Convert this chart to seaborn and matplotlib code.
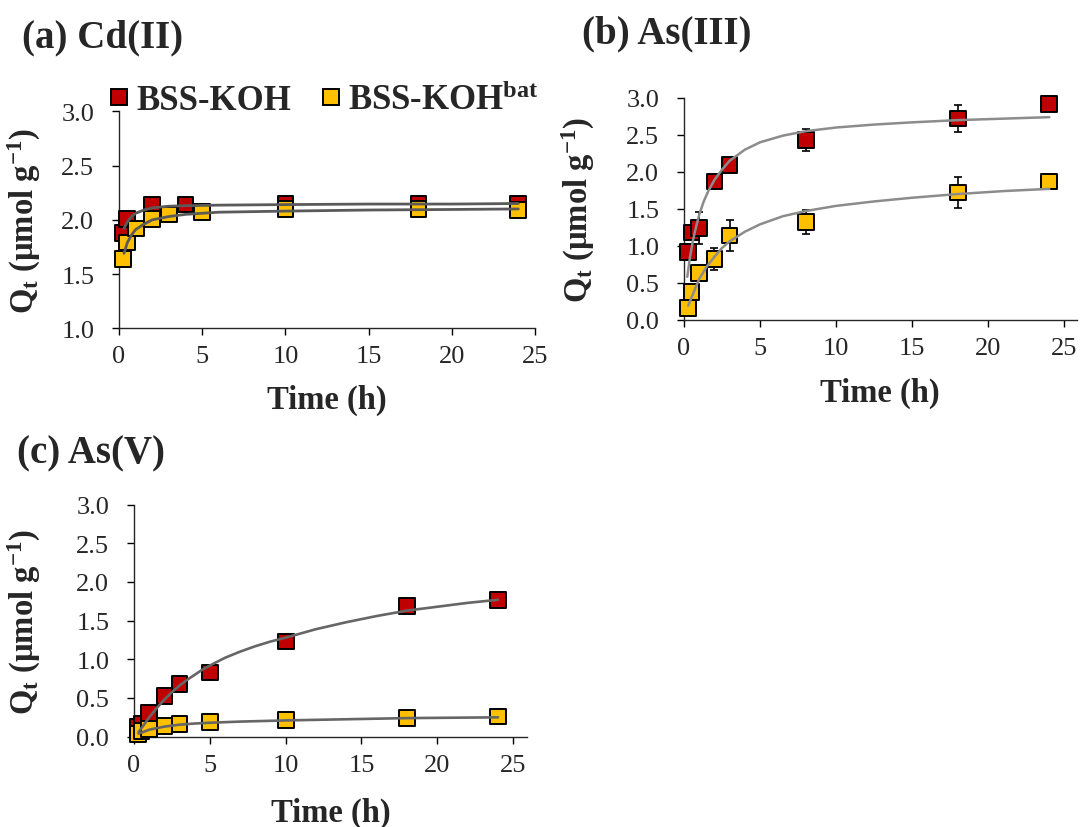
import numpy as np
import pandas as pd
import matplotlib
matplotlib.use('Agg')
import matplotlib.pyplot as plt
from matplotlib.lines import Line2D
import seaborn as sns

sns.set_style("ticks")
plt.rcParams['font.family'] = ['Liberation Serif', 'DejaVu Serif']
plt.rcParams['mathtext.fontset'] = 'custom'
plt.rcParams['mathtext.rm'] = 'Liberation Serif'
plt.rcParams['mathtext.it'] = 'Liberation Serif:italic'
plt.rcParams['mathtext.bf'] = 'Liberation Serif:bold'

samples = ['BSS-KOH', 'BSS-KOHbat']
colors = {'BSS-KOH': '#C00000', 'BSS-KOHbat': '#FFC000'}

# (a) Cd(II)
a_t_red = [0.25, 0.5, 2, 4, 10, 18, 24]
a_q_red = [1.88, 2.01, 2.14, 2.14, 2.15, 2.15, 2.15]
a_t_yel = [0.25, 0.5, 1, 2, 3, 5, 10, 18, 24]
a_q_yel = [1.64, 1.79, 1.92, 2.01, 2.05, 2.07, 2.10, 2.10, 2.09]
a_fit_t_red = [0.3, 0.5, 0.75, 1, 1.5, 2, 3, 4, 6, 10, 15, 20, 24]
a_fit_q_red = [1.92, 1.98, 2.03, 2.06, 2.09, 2.11, 2.125, 2.13, 2.135, 2.14, 2.145, 2.145, 2.15]
a_fit_t_yel = [0.3, 0.5, 0.75, 1, 1.5, 2, 3, 4, 6, 10, 15, 20, 24]
a_fit_q_yel = [1.69, 1.79, 1.86, 1.91, 1.96, 2.0, 2.03, 2.05, 2.07, 2.08, 2.09, 2.095, 2.1]

# (b) As(III)
b_t = [0.25, 0.5, 1, 2, 3, 8, 18, 24]
b_q_red = [0.92, 1.18, 1.24, 1.87, 2.09, 2.43, 2.72, 2.92]
b_e_red = [0.05, 0.05, 0.22, 0.05, 0.05, 0.15, 0.18, 0.04]
b_q_yel = [0.16, 0.37, 0.63, 0.82, 1.14, 1.32, 1.72, 1.87]
b_e_yel = [0.04, 0.05, 0.05, 0.15, 0.21, 0.16, 0.21, 0.05]
b_fit_t_red = [0.22, 0.4, 0.6, 0.8, 1.0, 1.3, 1.6, 2.0, 2.5, 3.0, 4.0, 5.0, 6.5, 8.0, 10, 12.5, 15, 18, 21, 24]
b_fit_q_red = [0.58, 0.85, 1.08, 1.26, 1.42, 1.60, 1.74, 1.89, 2.03, 2.15, 2.30, 2.40, 2.49, 2.55, 2.60, 2.64, 2.67, 2.70, 2.72, 2.74]
b_fit_t_yel = [0.28, 0.5, 0.75, 1.0, 1.5, 2.0, 2.5, 3.0, 4.0, 5.0, 6.5, 8.0, 10, 12.5, 15, 18, 21, 24]
b_fit_q_yel = [0.19, 0.30, 0.43, 0.55, 0.72, 0.85, 0.97, 1.06, 1.19, 1.29, 1.40, 1.47, 1.54, 1.60, 1.65, 1.70, 1.74, 1.77]

# (c) As(V)
c_t = [0.25, 0.5, 1, 2, 3, 5, 10, 18, 24]
c_q_red = [0.13, 0.17, 0.31, 0.53, 0.68, 0.83, 1.23, 1.69, 1.77]
c_q_yel = [0.03, 0.07, 0.10, 0.14, 0.16, 0.19, 0.22, 0.24, 0.26]
c_fit_t_red = [0.3, 0.6, 1, 1.5, 2, 2.5, 3, 3.5, 4, 4.5, 5, 6, 7, 8, 9, 10, 12, 14, 16, 18, 20, 22, 24]
c_fit_q_red = [0.06, 0.14, 0.25, 0.37, 0.48, 0.575, 0.66, 0.735, 0.80, 0.865, 0.92, 1.02, 1.10, 1.17, 1.23, 1.28, 1.39, 1.48, 1.56, 1.63, 1.68, 1.73, 1.77]
c_fit_t_yel = [0.3, 0.6, 1, 1.5, 2, 3, 4, 5, 7, 10, 14, 18, 24]
c_fit_q_yel = [0.04, 0.06, 0.09, 0.11, 0.13, 0.155, 0.17, 0.18, 0.195, 0.21, 0.225, 0.24, 0.25]


def make_df(t_red, q_red, t_yel, q_yel):
    return pd.DataFrame({
        'time': list(t_red) + list(t_yel),
        'q': list(q_red) + list(q_yel),
        'sample': ['BSS-KOH'] * len(t_red) + ['BSS-KOHbat'] * len(t_yel),
    })


def draw(ax, pts, fit, line_color, lw, errs=None):
    if errs is not None:
        for s, e in zip(samples, errs):
            d = pts[pts['sample'] == s]
            ax.errorbar(d['time'], d['q'], yerr=e, fmt='none', ecolor='black',
                        elinewidth=1.2, capsize=2.8, capthick=1.2, zorder=2)
    sns.scatterplot(data=pts, x='time', y='q', hue='sample', palette=colors,
                    marker='s', s=128, edgecolor='black', linewidth=1.4,
                    legend=False, ax=ax, zorder=3, clip_on=False)
    sns.lineplot(data=fit, x='time', y='q', units='sample', estimator=None,
                 color=line_color, lw=lw, ax=ax, zorder=4, legend=False)


fig = plt.figure(figsize=(10.81, 8.28), dpi=100)
axa = fig.add_axes([0.1101, 0.6023, 0.3848, 0.2621])
axb = fig.add_axes([0.6327, 0.6127, 0.3633, 0.2678])
axc = fig.add_axes([0.1240, 0.1091, 0.3633, 0.2802])

draw(axa, make_df(a_t_red, a_q_red, a_t_yel, a_q_yel),
     make_df(a_fit_t_red, a_fit_q_red, a_fit_t_yel, a_fit_q_yel), '#5a5a5a', 2.0)
draw(axb, make_df(b_t, b_q_red, b_t, b_q_yel),
     make_df(b_fit_t_red, b_fit_q_red, b_fit_t_yel, b_fit_q_yel), '#8c8c8c', 1.8,
     errs=[b_e_red, b_e_yel])
draw(axc, make_df(c_t, c_q_red, c_t, c_q_yel),
     make_df(c_fit_t_red, c_fit_q_red, c_fit_t_yel, c_fit_q_yel), '#666666', 1.9)

axa.set_xlim(0, 25)
axa.set_ylim(1, 3)
axb.set_xlim(0, 25.8)
axb.set_ylim(0, 3)
axc.set_xlim(0, 25.9)
axc.set_ylim(0, 3)

ylab = r'$\mathbf{Q_t}$ (µmol g$^{\mathbf{-1}}$)'
for ax, ylx in [(axa, -0.183), (axb, -0.222), (axc, -0.232)]:
    sns.despine(ax=ax)
    ax.spines['left'].set_linewidth(1.0)
    ax.spines['bottom'].set_linewidth(1.0)
    ax.set_xticks([0, 5, 10, 15, 20, 25])
    ax.set_yticks(np.arange(ax.get_ylim()[0], 3.01, 0.5))
    ax.yaxis.set_major_formatter(matplotlib.ticker.FormatStrFormatter('%.1f'))
    ax.tick_params(axis='both', direction='out', length=4.8, width=1.0,
                   labelsize=19, color='black')
    ax.tick_params(axis='y', pad=13)
    ax.tick_params(axis='x', pad=7.5)
    ax.set_xlabel('Time (h)', fontsize=23.5, fontweight='bold')
    ax.set_ylabel(ylab, fontsize=23.5, fontweight='bold')
    ax.xaxis.set_label_coords(0.5, -0.257)
    ax.yaxis.set_label_coords(ylx, 0.5)

fig.text(22 / 1081, 1 - 47 / 828, '(a) Cd(II)', fontsize=28, fontweight='bold', va='baseline')
fig.text(582 / 1081, 1 - 43 / 828, '(b) As(III)', fontsize=28, fontweight='bold', va='baseline')
fig.text(17 / 1081, 1 - 463 / 828, '(c) As(V)', fontsize=28, fontweight='bold', va='baseline')

handles = [Line2D([], [], ls='none', marker='s', ms=11.5, mfc=colors[s], mec='black', mew=1.4)
           for s in samples]
axa.legend(handles, ['BSS-KOH', r'BSS-KOH$^{\mathbf{bat}}$'], ncol=2, frameon=False,
           loc='lower left', bbox_to_anchor=(110 / 1081, 1 - 118 / 828),
           bbox_transform=fig.transFigure, borderpad=0, borderaxespad=0,
           handlelength=0.5, handletextpad=0.25, columnspacing=0.9,
           prop={'size': 25, 'weight': 'bold'})

fig.savefig('out.png', dpi=100)
